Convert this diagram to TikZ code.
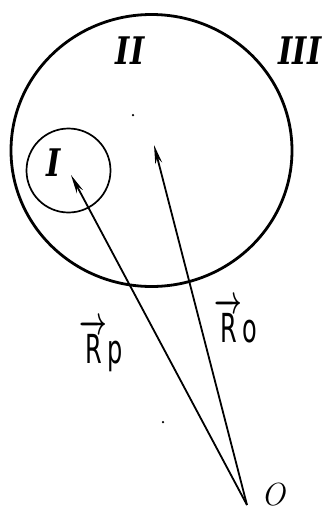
\documentclass[tikz,border=0pt]{standalone}
\usepackage{fix-cm}
\usepackage{fontspec}
\setsansfont{DejaVu Sans}
\newfontfamily\romfont{DejaVu Serif}
\usetikzlibrary{arrows.meta,shapes.geometric}
\begin{document}
\begin{tikzpicture}[x=1pt,y=-1pt,
  vecline/.style={line width=1.8pt,-{Stealth[length=19pt,width=7pt]}},
  roman/.style={font=\romfont\fontsize{38}{38}\selectfont\bfseries\itshape,xscale=0.8,inner sep=0pt},
  veclabel/.style={font=\fontsize{40}{40}\selectfont\sffamily\boldmath,xscale=0.6,inner sep=0pt,anchor=base},
  speck/.style={fill=black,inner sep=0pt,minimum size=2.5pt,circle}]
\useasboundingbox (0,0) rectangle (324,512);
\node[draw,ellipse,line width=2.8pt,minimum width=281pt,minimum height=272pt,inner sep=0pt] (big) at (151.5,150.5) {};
\node[draw,circle,line width=1.7pt,minimum size=84pt,inner sep=0pt] (small) at (68.5,170.5) {};
\coordinate (O) at (247,505);
\coordinate (tipP) at (71,175);
\coordinate (tipO) at (154,145);
\draw[vecline] (O) -- (tipP);
\draw[vecline] (O) -- (tipO);
\node[roman] (I) at (54,163) {I};
\node[roman] (II) at (130,51) {II};
\node[roman] (III) at (300,51) {III};
\node[font=\fontsize{32}{32}\selectfont\itshape,inner sep=0pt] (Olab) at (273,495) {O};
\node[veclabel] (Rp) at (101,363) {$\overrightarrow{\hbox{R}}$p};
\node[veclabel] (Ro) at (236,342) {$\overrightarrow{\hbox{R}}$o};
\node[speck] (s1) at (133,115) {};
\node[speck] (s2) at (163,422) {};
\end{tikzpicture}
\end{document}
